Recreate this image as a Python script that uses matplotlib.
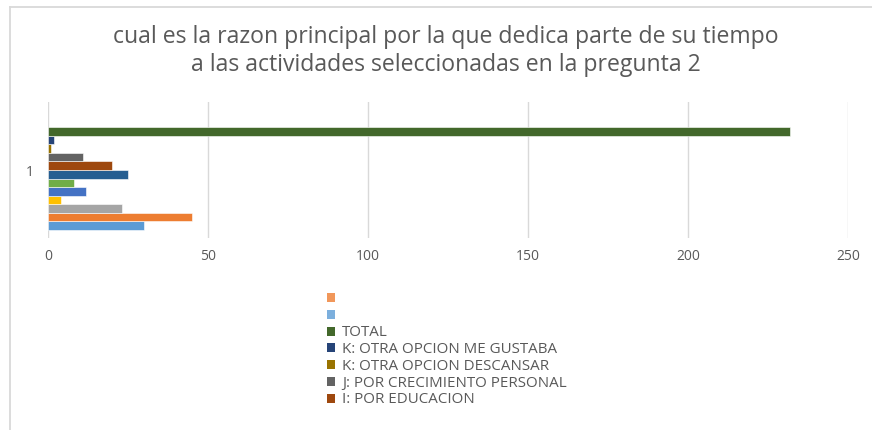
import matplotlib
matplotlib.use("Agg")
import matplotlib.pyplot as plt
from matplotlib.patches import Patch
from matplotlib.lines import Line2D
import numpy as np

# ---- data ----
category = ["1"]
series_names = [
    "Serie 1", "Serie 2", "Serie 3", "Serie 4", "Serie 5", "Serie 6",
    "Serie 7", "I: POR EDUCACION", "J: POR CRECIMIENTO PERSONAL",
    "K: OTRA OPCION DESCANSAR", "K: OTRA OPCION ME GUSTABA", "TOTAL", "", "",
]
series_values = [30, 45, 23, 4, 12, 8, 25, 20, 11, 1, 2, 232, np.nan, np.nan]
series_colors = [
    "#5B9BD5", "#ED7D31", "#A5A5A5", "#FFC000", "#4472C4", "#70AD47",
    "#255E91", "#9E480E", "#636363", "#997300", "#264478", "#43682B",
    "#7CAFDD", "#F1975A",
]
x_ticks = [0, 50, 100, 150, 200, 250]
title = "cual es la razon principal por la que dedica parte de su tiempo\na las actividades seleccionadas en la pregunta 2"
legend_count = 7  # visible legend entries (last series first)

W, H = 872, 430
fig = plt.figure(figsize=(W / 100, H / 100), dpi=100)
FONT = "Open Sans"
GRAY = "#595959"

ax = fig.add_axes([48 / W, 1 - 238.3 / H, 800 / W, 136.6 / H])
n = len(series_values)
slots = n + 2
bh = 1.0 / slots
for i, (v, c) in enumerate(zip(series_values, series_colors)):
    y = -0.5 + (1 + i + 0.5) * bh
    ax.barh(y, v, height=bh, color=c, edgecolor="white", linewidth=0.4, zorder=3)

ax.set_xlim(0, 250)
ax.set_ylim(-0.5, 0.5)
ax.set_xticks(x_ticks)
ax.set_xticklabels([str(t) for t in x_ticks], fontsize=10, color=GRAY, family=FONT)
ax.set_yticks([0])
ax.set_yticklabels(category, fontsize=10, color=GRAY, family=FONT)
ax.tick_params(axis="x", length=0, pad=8)
ax.tick_params(axis="y", length=0, pad=10)
ax.grid(axis="x", color="#D9D9D9", linewidth=1, zorder=0)
for s in ax.spines.values():
    s.set_visible(False)

fig.text(446 / W, 1 - 51 / H, title, ha="center", va="center", fontsize=16.6,
         color=GRAY, family=FONT, linespacing=1.2)

# outer frame (left and top)
fig.add_artist(Line2D([9.5 / W, 9.5 / W], [0, 1 - 6.5 / H], color="#D9D9D9", lw=1.3,
                      transform=fig.transFigure))
fig.add_artist(Line2D([9.5 / W, 1], [1 - 6.5 / H, 1 - 6.5 / H], color="#D9D9D9", lw=1.3,
                      transform=fig.transFigure))

handles, labels = [], []
for i in range(n - 1, n - 1 - legend_count, -1):
    handles.append(Patch(facecolor=series_colors[i], edgecolor="none"))
    labels.append(series_names[i])
leg = fig.legend(handles, labels, loc="upper left", bbox_to_anchor=(327 / W, 1 - 292 / H),
                 frameon=False, handlelength=0.55, handleheight=0.55,
                 handletextpad=0.45, labelspacing=0.115, borderaxespad=0, borderpad=0,
                 prop={"family": FONT, "size": 10.9})
for t in leg.get_texts():
    t.set_color(GRAY)

fig.savefig("out.png", dpi=100, facecolor="white")
